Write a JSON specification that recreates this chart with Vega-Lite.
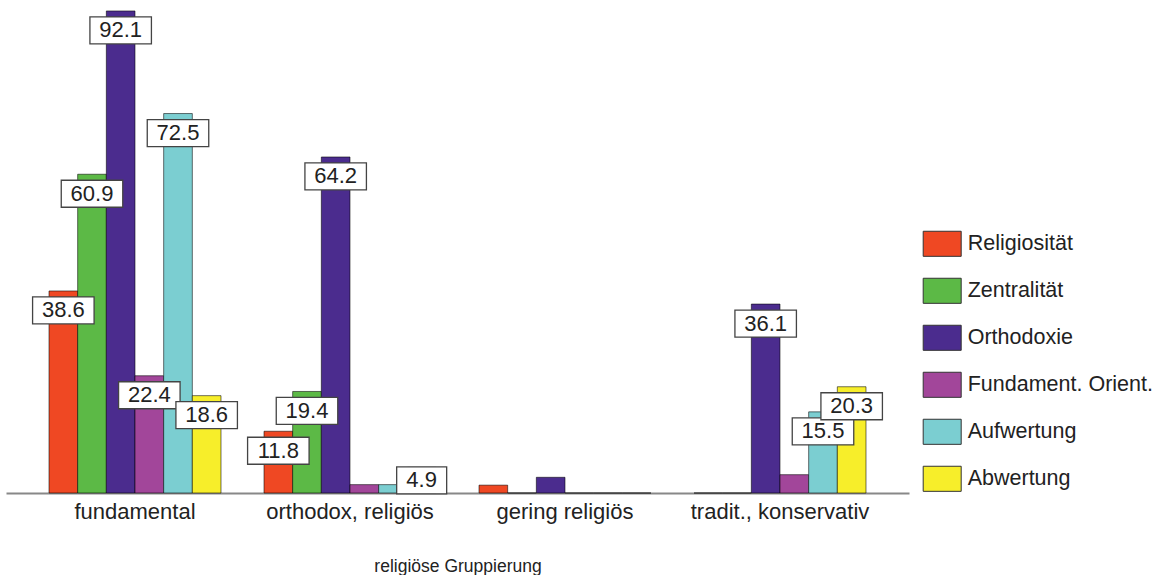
{
  "$schema": "https://vega.github.io/schema/vega-lite/v6.json",
  "width": 903,
  "height": 492,
  "autosize": {"type": "none"},
  "padding": {"left": 6, "top": 1, "right": 253, "bottom": 82},
  "background": "white",
  "config": {
    "view": {"stroke": null},
    "font": "Liberation Sans"
  },
  "data": {
    "values": [
      {"gruppe": "fundamental", "serie": "Religiosität", "value": 38.6},
      {"gruppe": "fundamental", "serie": "Zentralität", "value": 60.9},
      {"gruppe": "fundamental", "serie": "Orthodoxie", "value": 92.1},
      {"gruppe": "fundamental", "serie": "Fundament. Orient.", "value": 22.4},
      {"gruppe": "fundamental", "serie": "Aufwertung", "value": 72.5},
      {"gruppe": "fundamental", "serie": "Abwertung", "value": 18.6},
      {"gruppe": "orthodox, religiös", "serie": "Religiosität", "value": 11.8},
      {"gruppe": "orthodox, religiös", "serie": "Zentralität", "value": 19.4},
      {"gruppe": "orthodox, religiös", "serie": "Orthodoxie", "value": 64.2},
      {"gruppe": "orthodox, religiös", "serie": "Fundament. Orient.", "value": 1.6},
      {"gruppe": "orthodox, religiös", "serie": "Aufwertung", "value": 1.6},
      {"gruppe": "orthodox, religiös", "serie": "Abwertung", "value": 4.9},
      {"gruppe": "gering religiös", "serie": "Religiosität", "value": 1.5},
      {"gruppe": "gering religiös", "serie": "Zentralität", "value": 0},
      {"gruppe": "gering religiös", "serie": "Orthodoxie", "value": 3.0},
      {"gruppe": "gering religiös", "serie": "Fundament. Orient.", "value": 0},
      {"gruppe": "gering religiös", "serie": "Aufwertung", "value": 0},
      {"gruppe": "gering religiös", "serie": "Abwertung", "value": 0},
      {"gruppe": "tradit., konservativ", "serie": "Religiosität", "value": 0},
      {"gruppe": "tradit., konservativ", "serie": "Zentralität", "value": 0},
      {"gruppe": "tradit., konservativ", "serie": "Orthodoxie", "value": 36.1},
      {"gruppe": "tradit., konservativ", "serie": "Fundament. Orient.", "value": 3.5},
      {"gruppe": "tradit., konservativ", "serie": "Aufwertung", "value": 15.5},
      {"gruppe": "tradit., konservativ", "serie": "Abwertung", "value": 20.3}
    ]
  },
  "encoding": {
    "x": {
      "field": "gruppe",
      "type": "nominal",
      "sort": null,
      "scale": {"paddingInner": 0.2, "paddingOuter": 0.2},
      "axis": {
        "title": "religiöse Gruppierung",
        "titleFontSize": 17.5,
        "titleFontWeight": "normal",
        "titleColor": "#222",
        "titlePadding": 35,
        "labelAngle": 0,
        "labelFontSize": 22,
        "labelColor": "#222",
        "labelPadding": 8,
        "ticks": false,
        "domainColor": "#888",
        "domainWidth": 2,
        "grid": false
      }
    },
    "xOffset": {
      "field": "serie",
      "type": "nominal",
      "sort": ["Religiosität", "Zentralität", "Orthodoxie", "Fundament. Orient.", "Aufwertung", "Abwertung"],
      "scale": {"paddingInner": 0, "paddingOuter": 0}
    },
    "y": {
      "field": "value",
      "type": "quantitative",
      "scale": {"domain": [0, 94], "nice": false},
      "axis": null
    }
  },
  "layer": [
    {
      "mark": {"type": "bar", "stroke": "#000", "strokeOpacity": 0.55, "strokeWidth": 1, "opacity": 1},
      "encoding": {
        "color": {
          "field": "serie",
          "type": "nominal",
          "sort": ["Religiosität", "Zentralität", "Orthodoxie", "Fundament. Orient.", "Aufwertung", "Abwertung"],
          "scale": {
            "domain": ["Religiosität", "Zentralität", "Orthodoxie", "Fundament. Orient.", "Aufwertung", "Abwertung"],
            "range": ["#EF4823", "#5CB946", "#4B2C8E", "#A2469A", "#7BCED1", "#F7EE2A"]
          },
          "legend": {
            "title": null,
            "orient": "none",
            "legendX": 916.7,
            "legendY": 223.3,
            "padding": 0,
            "symbolType": "M-1,-0.66H1V0.66H-1Z",
            "symbolSize": 1444,
            "symbolStrokeColor": "#333",
            "symbolStrokeWidth": 1,
            "symbolOpacity": 1,
            "labelFontSize": 21.5,
            "labelColor": "#222",
            "labelOffset": 6,
            "rowPadding": 12,
            "labelLimit": 400
          }
        }
      }
    },
    {
      "transform": [{"filter": "datum.value >= 8"}],
      "mark": {
        "type": "point",
        "filled": true,
        "fill": "white",
        "stroke": "#444",
        "strokeWidth": 1.3,
        "opacity": 1,
        "size": 4,
        "yOffset": 19.5
      },
      "encoding": {
        "shape": {
          "condition": {"test": "datum.value >= 10", "value": "M-30.75,-13.5H30.75V13.5H-30.75Z"},
          "value": "M-25,-13.5H25V13.5H-25Z"
        }
      }
    },
    {
      "transform": [{"filter": "datum.value >= 4 && datum.value < 8"}],
      "mark": {
        "type": "point",
        "filled": true,
        "fill": "white",
        "stroke": "#444",
        "strokeWidth": 1.3,
        "opacity": 1,
        "size": 4,
        "yOffset": 13
      },
      "encoding": {
        "shape": {"value": "M-25,-13.5H25V13.5H-25Z"}
      }
    },
    {
      "transform": [{"filter": "datum.value >= 8"}],
      "mark": {"type": "text", "fontSize": 22, "color": "#222", "baseline": "middle", "align": "center", "yOffset": 19.5},
      "encoding": {"text": {"field": "value", "type": "quantitative", "format": ".1f"}}
    },
    {
      "transform": [{"filter": "datum.value >= 4 && datum.value < 8"}],
      "mark": {"type": "text", "fontSize": 22, "color": "#222", "baseline": "middle", "align": "center", "yOffset": 13},
      "encoding": {"text": {"field": "value", "type": "quantitative", "format": ".1f"}}
    }
  ]
}
